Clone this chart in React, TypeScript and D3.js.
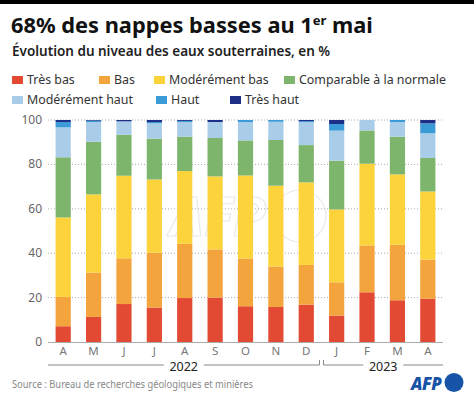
import React from "react";
import * as d3 from "d3";

const months = ["A", "M", "J", "J", "A", "S", "O", "N", "D", "J", "F", "M", "A"];
const years = ["2022", "2022", "2022", "2022", "2022", "2022", "2022", "2022", "2022", "2023", "2023", "2023", "2023"];
const tresBas = [7.1, 11.3, 17.1, 15.5, 19.8, 20.0, 16.1, 15.8, 16.8, 11.9, 22.4, 18.8, 19.5];
const bas = [13.2, 20.0, 20.6, 24.7, 24.4, 21.7, 21.5, 18.2, 17.9, 15.0, 21.1, 25.0, 17.6];
const moderementBas = [35.8, 35.2, 37.2, 33.0, 32.8, 32.9, 37.4, 36.4, 37.2, 32.8, 36.8, 31.7, 30.7];
const comparable = [27.1, 23.7, 18.5, 18.4, 15.5, 17.3, 15.8, 20.6, 16.8, 22.0, 15.0, 17.0, 15.1];
const moderementHaut = [13.5, 8.9, 6.0, 6.9, 6.6, 7.2, 8.3, 8.2, 10.3, 13.5, 4.7, 6.6, 11.1];
const haut = [2.4, 0.6, 0, 0.6, 0.5, 0, 0.9, 0.8, 0.5, 3.0, 0, 0.9, 4.5];
const tresHaut = [0.9, 0.3, 0.6, 0.9, 0.4, 0.9, 0, 0, 0.5, 1.8, 0, 0, 1.5];
const yTicks = [0, 20, 40, 60, 80, 100];

const seriesNames = ["Très bas", "Bas", "Modérément bas", "Comparable à la normale", "Modérément haut", "Haut", "Très haut"];
const seriesValues = [tresBas, bas, moderementBas, comparable, moderementHaut, haut, tresHaut];
const colors = ["#e24a33", "#f4a43c", "#fdd33b", "#7db56c", "#a9cce9", "#3b9bd6", "#1d2f86"];

const FONT = "'Noto Sans', 'Open Sans', sans-serif";

export default function App() {
  const W = 474, H = 399;
  const x = d3.scaleBand<number>().domain(d3.range(months.length)).range([48, 443]).paddingInner(0.5).paddingOuter(0.25);
  const y = d3.scaleLinear().domain([0, 100]).range([342, 120]);

  const rows = months.map((m, i) => {
    const r: any = { i };
    seriesNames.forEach((s, k) => (r[s] = seriesValues[k][i]));
    return r;
  });
  const stacked = d3.stack<any>().keys(seriesNames)(rows);

  const legendPos = [
    { x: 12, y: 79 }, { x: 99, y: 79 }, { x: 154, y: 79 }, { x: 284, y: 79 },
    { x: 12, y: 99 }, { x: 156, y: 99 }, { x: 230, y: 99 },
  ];

  const splitIdx = years.indexOf("2023");
  const mid = ((x(splitIdx - 1)! + x.bandwidth()) + x(splitIdx)!) / 2;
  const brackets = [
    { label: "2022", x0: 48, x1: mid - 2, tickEnd: true, tickStart: false },
    { label: "2023", x0: mid + 2, x1: 443, tickEnd: false, tickStart: true },
  ];
  const by = 365;

  return (
    <svg width={W} height={H} style={{ position: "fixed", left: 0, top: 0, background: "#fff" }} fontFamily={FONT}>
      <rect x={0} y={0} width={W} height={H} fill="#fff" />
      <rect x={0} y={0} width={W} height={4} fill="#000" />
      <text x={11} y={33} fontSize={21.8} fontWeight={700} fill="#111">
        68% des nappes basses au 1<tspan dy={-8} fontSize={13}>er</tspan><tspan dy={8}> mai</tspan>
      </text>
      <text x={12} y={56} fontSize={13.5} fontWeight={600} fill="#222">
        Évolution du niveau des eaux souterraines, en %
      </text>
      {seriesNames.map((s, k) => (
        <g key={s} transform={`translate(${legendPos[k].x},${legendPos[k].y})`}>
          <rect x={0} y={-3} width={11} height={8} fill={colors[k]} />
          <text x={15} y={5} fontSize={12.4} fill="#333">{s}</text>
        </g>
      ))}
      {yTicks.filter(t => t > 0).map(t => (
        <line key={t} x1={48} x2={443} y1={y(t)} y2={y(t)} stroke="#aaa" strokeWidth={1} strokeDasharray="1,2" />
      ))}
      {yTicks.map(t => (
        <text key={"l" + t} x={42} y={y(t) + 4} textAnchor="end" fontSize={12} fill="#666">{t}</text>
      ))}
      <g opacity={0.45} fill="none" stroke="#cfcfcf" strokeWidth={1.2}>
        <text x={170} y={236} fontSize={54} fontWeight={700} fontStyle="italic" fontFamily={FONT}>AFP</text>
        <circle cx={300} cy={216} r={26} />
      </g>
      {stacked.map((layer, k) => (
        <g key={layer.key} fill={colors[k]}>
          {layer.map((d, i) => {
            const h = y(d[0]) - y(d[1]);
            return h > 0 ? <rect key={i} x={x(i)} y={y(d[1])} width={x.bandwidth()} height={h} /> : null;
          })}
        </g>
      ))}
      <line x1={48} x2={443} y1={342.5} y2={342.5} stroke="#aaa" strokeWidth={1} />
      {months.map((m, i) => (
        <text key={i} x={x(i)! + x.bandwidth() / 2} y={355} textAnchor="middle" fontSize={11.5} fill="#777">{m}</text>
      ))}
      {brackets.map(b => {
        const cx = (b.x0 + b.x1) / 2;
        return (
          <g key={b.label}>
            <line x1={b.x0} x2={cx - 20} y1={by} y2={by} stroke="#888" />
            <line x1={cx + 20} x2={b.x1} y1={by} y2={by} stroke="#888" />
            {b.tickEnd && <line x1={b.x1} x2={b.x1} y1={by} y2={by - 5} stroke="#888" />}
            {b.tickStart && <line x1={b.x0} x2={b.x0} y1={by} y2={by - 5} stroke="#888" />}
            <text x={cx} y={by + 5.5} textAnchor="middle" fontSize={12.5} fill="#222">{b.label}</text>
          </g>
        );
      })}
      <text x={12} y={388} fontSize={11} fill="#888" textLength={241} lengthAdjust="spacingAndGlyphs">Source : Bureau de recherches géologiques et minières</text>
      <text x={411} y={390} fontSize={17} fontWeight={800} fontStyle="italic" fill="#1753a6" fontFamily="'Open Sans', sans-serif" letterSpacing={-0.5}>AFP</text>
      <circle cx={454} cy={382.5} r={9.5} fill="#1753a6" />
    </svg>
  );
}
